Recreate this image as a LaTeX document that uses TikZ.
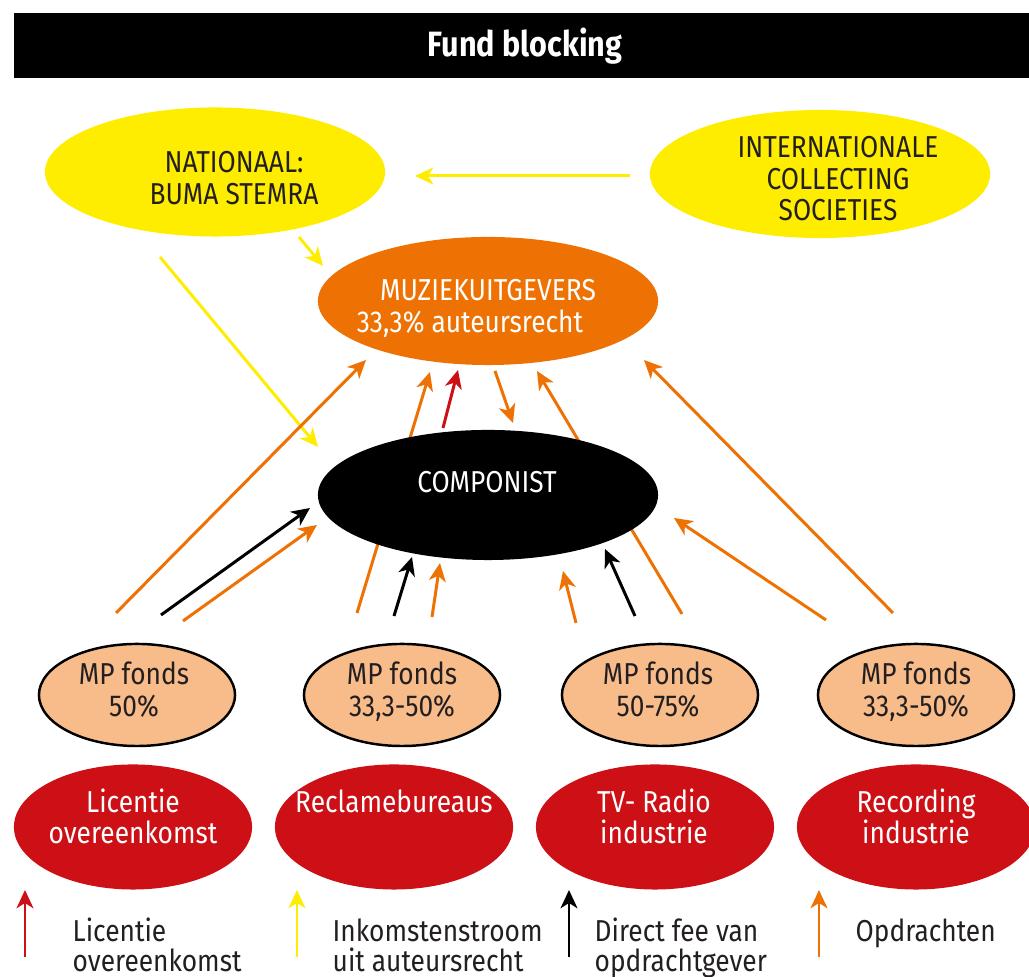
\documentclass[tikz,border=0pt]{standalone}
\usepackage{fontspec}
\setmainfont{Fira Sans}[FakeStretch=0.87]
\usetikzlibrary{arrows.meta,shapes.geometric}

\definecolor{cYellow}{HTML}{FFED00}
\definecolor{cOrange}{HTML}{EE7203}
\definecolor{cRed}{HTML}{CC1016}
\definecolor{cPeach}{HTML}{F8BC8A}
\definecolor{cInk}{HTML}{231F20}

\tikzset{
  flow/.style={line width=0.85pt,-{Stealth[length=5.2pt,width=4.8pt,inset=1.5pt]}},
  yflow/.style={flow,draw=cYellow,fill=cYellow},
  oflow/.style={flow,draw=cOrange,fill=cOrange},
  kflow/.style={flow,draw=black,fill=black},
  rflow/.style={flow,draw=cRed,fill=cRed},
  blob/.style={ellipse,inner sep=0pt,outer sep=0pt},
  txt/.style={anchor=base,inner sep=0pt,font=\fontsize{8.6}{9.6}\selectfont},
  ltxt/.style={txt,anchor=base west},
}

\begin{document}
\begin{tikzpicture}[x=0.01cm,y=-0.01cm]
\useasboundingbox (0,0) rectangle (1029,977);

% title bar
\fill[black] (14,13) rectangle (1029,78);
\node[anchor=base,inner sep=0pt,text=white,font=\fontsize{10}{11}\selectfont\bfseries] (title) at (525,57) {Fund blocking};

% end points of the connectors
\coordinate (i1) at (630,176);  \coordinate (i2) at (415,176);
\coordinate (n1) at (299,237);  \coordinate (n2) at (323,266);
\coordinate (n3) at (160,257);  \coordinate (n4) at (318,447);
\coordinate (a1) at (116,613);  \coordinate (a2) at (366,360);
\coordinate (b1) at (357,613);  \coordinate (b2) at (430,372);
\coordinate (c1) at (682,614);  \coordinate (c2) at (537,371);
\coordinate (d1) at (893,613);  \coordinate (d2) at (644,360);
\coordinate (e1) at (826,620);  \coordinate (e2) at (674,518);
\coordinate (f1) at (576,623);  \coordinate (f2) at (563,571);
\coordinate (g1) at (432,617);  \coordinate (g2) at (440,563);
\coordinate (h1) at (183,621);  \coordinate (h2) at (317,525);
\coordinate (m1) at (495,371);  \coordinate (m2) at (513,423);
\coordinate (k1) at (161,615);  \coordinate (k2) at (310,508);
\coordinate (p1) at (394,616);  \coordinate (p2) at (412,557);
\coordinate (q1) at (635,616);  \coordinate (q2) at (605,549);
\coordinate (r1) at (443,428);  \coordinate (r2) at (458,370);

% the two long strokes that pass behind COMPONIST
\draw[oflow] (b1) -- (b2);
\draw[oflow] (c1) -- (c2);

% ellipses
\node[blob,fill=cYellow,minimum width=3.4cm,minimum height=1.29cm] (nat) at (215,172) {};
\node[blob,fill=cYellow,minimum width=3.4cm,minimum height=1.28cm] (intl) at (820,174) {};
\node[blob,fill=cOrange,minimum width=3.4cm,minimum height=1.28cm] (muz) at (488,301) {};
\node[blob,fill=black,minimum width=3.4cm,minimum height=1.30cm] (comp) at (488,495) {};

\foreach \nm/\cx in {mpA/137,mpB/402,mpC/660,mpD/916}
  \node[blob,fill=cPeach,draw=black,line width=0.7pt,minimum width=1.96cm,minimum height=1.02cm] (\nm) at (\cx,695) {};
\foreach \nm/\cx in {rdA/133,rdB/394,rdC/655,rdD/916}
  \node[blob,fill=cRed,minimum width=2.38cm,minimum height=1.25cm] (\nm) at (\cx,827) {};

% texts
\node[txt,text=cInk] (natA) at (234,173) {NATIONAAL:};
\node[txt,text=cInk] (natB) at (234,205) {BUMA STEMRA};
\node[txt,text=cInk] (intA) at (838,158) {INTERNATIONALE};
\node[txt,text=cInk] (intB) at (838,190) {COLLECTING};
\node[txt,text=cInk] (intC) at (838,221) {SOCIETIES};
\node[txt,text=white] (muzA) at (488,301) {MUZIEKUITGEVERS};
\node[txt,text=white] (muzB) at (470,333) {33,3\% auteursrecht};
\node[txt,text=white] (compA) at (487,493) {COMPONIST};

\node[txt,text=cInk] (mpAa) at (134,685) {MP fonds};
\node[txt,text=cInk] (mpAb) at (134,717) {50\%};
\node[txt,text=cInk] (mpBa) at (402,685) {MP fonds};
\node[txt,text=cInk] (mpBb) at (402,717) {33,3-50\%};
\node[txt,text=cInk] (mpCa) at (658,685) {MP fonds};
\node[txt,text=cInk] (mpCb) at (658,717) {50-75\%};
\node[txt,text=cInk] (mpDa) at (916,685) {MP fonds};
\node[txt,text=cInk] (mpDb) at (916,717) {33,3-50\%};

\node[txt,text=white] (rdAa) at (133,813) {Licentie};
\node[txt,text=white] (rdAb) at (133,844) {overeenkomst};
\node[txt,text=white] (rdBa) at (394,813) {Reclamebureaus};
\node[txt,text=white] (rdCa) at (654,813) {TV- Radio};
\node[txt,text=white] (rdCb) at (654,844) {industrie};
\node[txt,text=white] (rdDa) at (916,813) {Recording};
\node[txt,text=white] (rdDb) at (916,844) {industrie};

% connectors
\draw[yflow] (i1) -- (i2);
\draw[yflow] (n1) -- (n2);
\draw[yflow] (n3) -- (n4);
\draw[oflow] (a1) -- (a2);
\draw[oflow] (d1) -- (d2);
\draw[oflow] (e1) -- (e2);
\draw[oflow] (f1) -- (f2);
\draw[oflow] (g1) -- (g2);
\draw[oflow] (h1) -- (h2);
\draw[oflow] (m1) -- (m2);
\draw[kflow] (k1) -- (k2);
\draw[kflow] (p1) -- (p2);
\draw[kflow] (q1) -- (q2);
\draw[rflow] (r1) -- (r2);

% legend
\foreach \nm/\lx/\col in {lgA/25/cRed,lgB/297/cYellow,lgC/569/black,lgD/819/cOrange}{
  \coordinate (\nm b) at (\lx,957);
  \coordinate (\nm t) at (\lx,890);
  \draw[flow,line width=0.7pt,draw=\col,fill=\col] (\nm b) -- (\nm t);
}
\node[ltxt,text=cInk] (lgAa) at (72,942) {Licentie};
\node[ltxt,text=cInk] (lgAb) at (72,972) {overeenkomst};
\node[ltxt,text=cInk] (lgBa) at (332,942) {Inkomstenstroom};
\node[ltxt,text=cInk] (lgBb) at (332,972) {uit auteursrecht};
\node[ltxt,text=cInk] (lgCa) at (594,942) {Direct fee van};
\node[ltxt,text=cInk] (lgCb) at (594,972) {opdrachtgever};
\node[ltxt,text=cInk] (lgDa) at (855,942) {Opdrachten};
\end{tikzpicture}
\end{document}
